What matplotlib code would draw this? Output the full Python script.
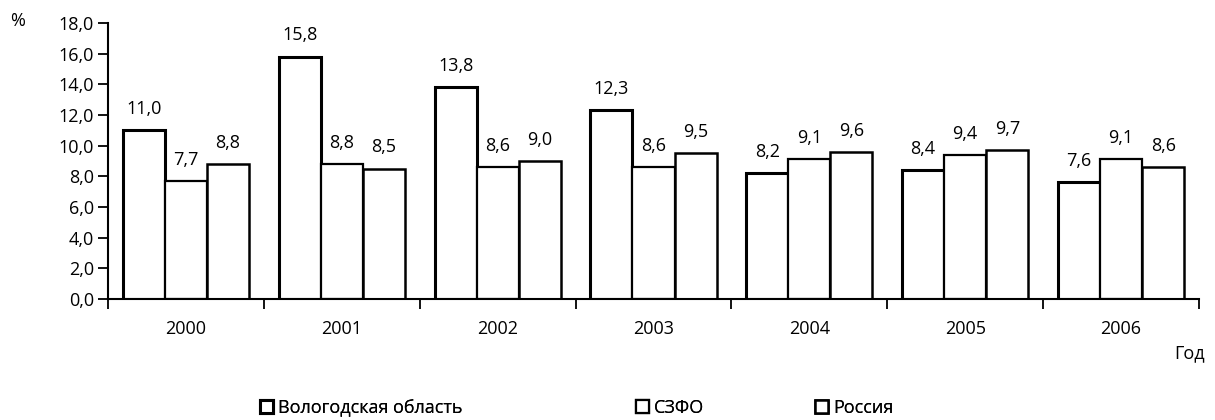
import numpy as np
import matplotlib.pyplot as plt
from matplotlib.ticker import FuncFormatter, MultipleLocator

plt.rcParams['font.family'] = ['Open Sans', 'DejaVu Sans']

years = ['2000', '2001', '2002', '2003', '2004', '2005', '2006']
series_names = ['Вологодская область', 'СЗФО', 'Россия']
vologda = [11.0, 15.8, 13.8, 12.3, 8.2, 8.4, 7.6]
szfo = [7.7, 8.8, 8.6, 8.6, 9.1, 9.4, 9.1]
russia = [8.8, 8.5, 9.0, 9.5, 9.6, 9.7, 8.6]

FS = 13


def comma(v):
    return f'{v:.1f}'.replace('.', ',')


fig = plt.figure(figsize=(12.15, 4.2), dpi=100)
ax = fig.add_axes([108 / 1215, 1 - 299 / 420, 1091 / 1215, 276 / 420])

x = np.arange(len(years))
width = 0.27
edge_widths = [2.2, 1.6, 1.8]
handles = []
for i, (vals, name) in enumerate(zip([vologda, szfo, russia], series_names)):
    pos = x + (i - 1) * width
    bars = ax.bar(pos, vals, width, color='white', edgecolor='black',
                  linewidth=edge_widths[i], label=name)
    handles.append(bars)
    for px, v in zip(pos, vals):
        ax.text(px, v + 0.8, comma(v), ha='center', va='bottom', fontsize=FS)

ax.set_xlim(-0.5, len(years) - 0.5)
ax.set_ylim(0, 18)
ax.yaxis.set_major_locator(MultipleLocator(2))
ax.yaxis.set_major_formatter(FuncFormatter(lambda v, p: comma(v)))
ax.set_xticks(x)
ax.set_xticklabels(years, fontsize=FS)
ax.set_xticks(np.arange(-0.5, len(years)), minor=True)
ax.tick_params(axis='x', which='major', length=0, pad=15)
ax.tick_params(axis='x', which='minor', length=7, width=1.3, direction='out')
ax.tick_params(axis='y', labelsize=FS, length=7, width=1.3, pad=3)
for side in ['top', 'right']:
    ax.spines[side].set_visible(False)
for side in ['left', 'bottom']:
    ax.spines[side].set_linewidth(1.5)

fig.text(10 / 1215, 1 - 21 / 420, '%', fontsize=FS, va='center')
fig.text(1174 / 1215, 1 - 353 / 420, 'Год', fontsize=FS, va='center')

# legend entries sit at fixed spots along the bottom, as in the original
legend_x = [260, 636, 815]
for h, lx in zip(handles, legend_x):
    leg = fig.legend(handles=[h], loc='center left', bbox_to_anchor=(lx / 1215, 1 - 408 / 420),
                     frameon=False, fontsize=FS, handlelength=0.7, handleheight=0.7,
                     handletextpad=0.3, borderpad=0, borderaxespad=0)
    fig.add_artist(leg)

fig.savefig('out.png', dpi=100)
